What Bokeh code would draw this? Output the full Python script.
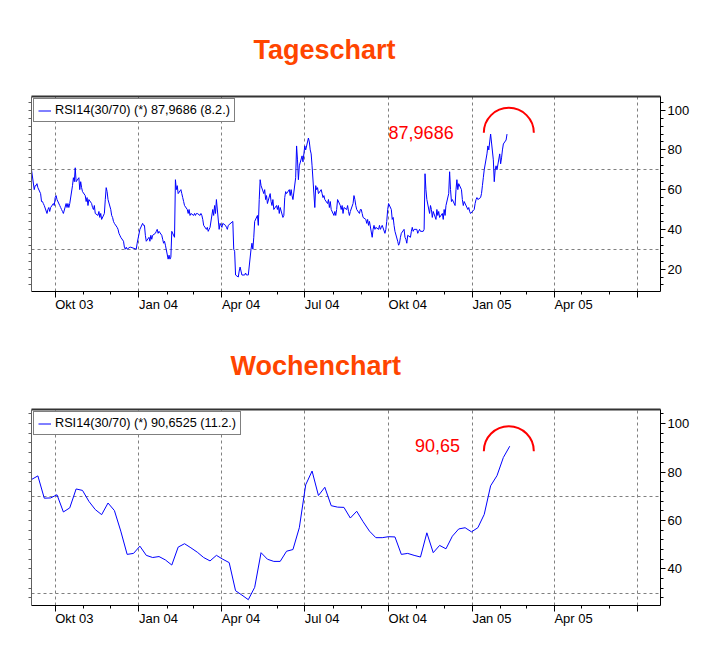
import math
import pandas as pd
from bokeh.plotting import figure
from bokeh.models import (Range1d, LinearAxis, FixedTicker, Label,
                          Legend, LegendItem, Grid, CustomJSTickFormatter)
from bokeh.layouts import column
from bokeh.embed import file_html
from bokeh.resources import INLINE

FONT = "Liberation Sans"
TITLE_COLOR = "#FF4500"

# ---------------- axis definitions ----------------
X_START = "2003-09-05"
X_END = "2005-07-26 12:00"
QUARTER_TICKS = ["2003-10-01", "2004-01-01", "2004-04-01", "2004-07-01",
                 "2004-10-01", "2005-01-01", "2005-04-01", "2005-07-01"]
QUARTER_LABELS = ["Okt 03", "Jan 04", "Apr 04", "Jul 04", "Okt 04", "Jan 05", "Apr 05", ""]
MONTH_TICKS = ["2003-10-01", "2003-11-01", "2003-12-01", "2004-01-01", "2004-02-01", "2004-03-01",
               "2004-04-01", "2004-05-01", "2004-06-01", "2004-07-01", "2004-08-01", "2004-09-01",
               "2004-10-01", "2004-11-01", "2004-12-01", "2005-01-01", "2005-02-01", "2005-03-01",
               "2005-04-01", "2005-05-01", "2005-06-01", "2005-07-01"]
Y_MAJOR_TOP = [20, 40, 60, 80, 100]
Y_MAJOR_BOTTOM = [40, 60, 80, 100]
Y_MINOR = [8, 12, 16, 20, 24, 28, 32, 36, 40, 44, 48, 52, 56, 60, 64, 68, 72, 76, 80, 84, 88, 92, 96, 100, 104]
Y_GRID = [30, 70]

# ---------------- daily RSI14 (Tageschart) ----------------
DAILY_START = "2003-09-05"
DAILY_END = "2005-02-08"
MARKET_HOLIDAYS = ["2003-12-24", "2003-12-25", "2003-12-26", "2003-12-31", "2004-01-01",
                   "2004-04-09", "2004-04-12", "2004-12-24", "2004-12-31"]
RSI_D_2003_09 = [70, 60, 62, 62, 63, 61, 58, 54, 54, 53, 52, 48, 50, 51, 49, 51, 53, 52]
RSI_D_2003_10 = [56, 57, 55, 52, 51, 50, 49, 48, 53, 51, 53, 51, 53, 62, 66, 64, 71, 64, 66, 60, 64, 61, 59]
RSI_D_2003_11 = [57, 54, 56, 52, 55, 53, 51, 50, 52, 48, 47, 49, 46, 48, 45, 48, 55, 61, 59, 55]
RSI_D_2003_12 = [50, 47, 46, 44, 43, 41, 40, 38, 37, 36, 34, 31, 30, 31, 30, 31, 31, 30, 33]
RSI_D_2004_01 = [40, 43, 42, 42, 37, 34, 36, 34, 37, 35, 37, 38, 39, 40, 38, 39, 37, 35, 33, 34, 32]
RSI_D_2004_02 = [25, 27, 25, 26, 39, 36, 65, 60, 62, 58, 60, 58, 56, 54, 52, 50, 48, 50, 47, 48]
RSI_D_2004_03 = [47, 48, 47, 48, 48, 47, 48, 47, 45, 42, 40, 41, 39, 40, 41, 50, 47, 52, 48, 55, 40, 43, 42]
RSI_D_2004_04 = [41, 43, 42, 41, 40, 42, 44, 30, 29, 17, 16, 19, 21, 19, 17, 17, 18, 17, 17, 17]
RSI_D_2004_05 = [30, 33, 30, 36, 44, 47, 42, 55, 65, 62, 58, 60, 55, 57, 53, 58, 54, 52, 55, 50, 52]
RSI_D_2004_06 = [50, 52, 48, 51, 46, 47, 56, 59, 58, 60, 57, 60, 57, 55, 66, 82, 75, 65, 72, 77, 74, 78]
RSI_D_2004_07 = [82, 80, 86, 84, 80, 78, 72, 51, 62, 60, 61, 58, 60, 58, 56, 57, 55, 53, 55, 51, 54, 50]
RSI_D_2004_08 = [47, 49, 47, 50, 55, 52, 50, 52, 48, 51, 50, 52, 49, 47, 49, 53, 57, 55, 52, 50, 48, 50]
RSI_D_2004_09 = [50, 48, 46, 45, 43, 45, 42, 44, 36, 40, 42, 40, 41, 40, 42, 40, 41, 42, 38, 40, 44, 50]
RSI_D_2004_10 = [53, 50, 45, 46, 42, 39, 34, 32, 33, 36, 38, 40, 36, 35, 33, 37, 36, 39, 41, 39, 40]
RSI_D_2004_11 = [40, 38, 39, 40, 39, 39, 40, 68, 60, 55, 48, 52, 50, 46, 49, 45, 50, 47, 49, 46, 48, 45]
RSI_D_2004_12 = [50, 47, 52, 58, 69, 60, 54, 55, 52, 60, 65, 60, 63, 60, 55, 52, 54, 50, 51, 49, 48]
RSI_D_2005_01 = [50, 53, 55, 56, 55, 56, 58, 62, 66, 70, 78, 82, 80, 84, 88, 75, 64, 70, 72, 70, 78]
RSI_D_2005_02 = [73, 76, 80, 83, 85, 87.9686]
DAILY_MONTHS = [("2003-09", RSI_D_2003_09), ("2003-10", RSI_D_2003_10), ("2003-11", RSI_D_2003_11),
                ("2003-12", RSI_D_2003_12), ("2004-01", RSI_D_2004_01), ("2004-02", RSI_D_2004_02),
                ("2004-03", RSI_D_2004_03), ("2004-04", RSI_D_2004_04), ("2004-05", RSI_D_2004_05),
                ("2004-06", RSI_D_2004_06), ("2004-07", RSI_D_2004_07), ("2004-08", RSI_D_2004_08),
                ("2004-09", RSI_D_2004_09), ("2004-10", RSI_D_2004_10), ("2004-11", RSI_D_2004_11),
                ("2004-12", RSI_D_2004_12), ("2005-01", RSI_D_2005_01), ("2005-02", RSI_D_2005_02)]

# ---------------- weekly RSI14 (Wochenchart) ----------------
WEEKLY_START = "2003-09-05"
WEEKLY_END = "2005-02-11"
RSI_WEEKLY = [76.9, 78.4, 69.2, 69.3, 70.6, 63.5, 65.2, 73.0, 72.4, 67.9, 64.5, 62.4, 67.2, 64.1,
              55.6, 46.0, 46.4, 49.4, 45.6, 44.7, 45.1, 43.7, 41.6, 49.0, 50.4, 48.7, 46.9, 44.7,
              43.3, 45.6, 44.0, 42.6, 31.0, 29.2, 27.3, 32.4, 46.7, 44.0, 43.1, 43.1, 47.3, 48.0,
              57.0, 74.7, 80.4, 70.3, 73.7, 66.1, 65.5, 65.4, 61.0, 63.8, 59.5, 55.6, 52.9, 52.9,
              53.3, 53.2, 46.0, 46.4, 45.6, 44.9, 54.9, 46.7, 49.7, 48.3, 53.5, 56.5, 57.0, 55.3,
              57.0, 62.5, 74.3, 78.5, 86.0, 90.65]

# ---------------- annotations ----------------
LEGEND_DAILY = "RSI14(30/70) (*) 87,9686 (8.2.)"
LEGEND_WEEKLY = "RSI14(30/70) (*) 90,6525 (11.2.)"
NOTE_DAILY = "87,9686"
NOTE_WEEKLY = "90,65"


def ms(t):
    return (pd.Timestamp(t) - pd.Timestamp("1970-01-01")) / pd.Timedelta(milliseconds=1)


# build daily series
bdays = pd.bdate_range(DAILY_START, DAILY_END)
bdays = bdays[~bdays.isin(pd.to_datetime(MARKET_HOLIDAYS))]
daily_x, daily_y = [], []
for ym, vals in DAILY_MONTHS:
    md = [d for d in bdays if d.strftime("%Y-%m") == ym]
    n = min(len(md), len(vals))
    daily_x += [ms(d) for d in md[:n]]
    daily_y += vals[:n]

weeks = pd.date_range(WEEKLY_START, WEEKLY_END, freq="7D")
weekly_x = [ms(d) for d in weeks][:len(RSI_WEEKLY)]
weekly_y = RSI_WEEKLY[:len(weekly_x)]


def build(title, title_offset, title_standoff, height, top, bottom, left, right,
          ymin, ymax, major_y, xs, ys, legend_text, note_text, note_x, note_y, arc_x, arc_y):
    p = figure(width=708, height=height,
               x_range=Range1d(ms(X_START), ms(X_END)), y_range=Range1d(ymin, ymax),
               x_axis_type=None, y_axis_type=None, toolbar_location=None, output_backend="svg",
               min_border_left=left, min_border_right=right, min_border_top=top,
               min_border_bottom=bottom, background_fill_color="white",
               border_fill_color="white", outline_line_color=None)

    p.title.text = title
    p.title.align = "left"
    p.title.offset = title_offset
    p.title.standoff = title_standoff
    p.title.vertical_align = "top"
    p.title.text_font = FONT
    p.title.text_font_size = "27px"
    p.title.text_font_style = "bold"
    p.title.text_color = TITLE_COLOR

    grey = "#606060"
    p.add_layout(Grid(dimension=0, ticker=FixedTicker(ticks=[ms(t) for t in QUARTER_TICKS]),
                      grid_line_color="#808080", grid_line_dash="3 3", grid_line_width=1))
    p.add_layout(Grid(dimension=1, ticker=FixedTicker(ticks=Y_GRID),
                      grid_line_color="#808080", grid_line_dash="3 3", grid_line_width=1))

    top_ax = LinearAxis(ticker=FixedTicker(ticks=[], minor_ticks=[]), axis_line_width=2,
                        axis_line_color="#333333", major_tick_out=0, major_tick_in=0,
                        minor_tick_out=0, minor_tick_in=0, major_label_standoff=0)
    p.add_layout(top_ax, "above")

    left_ax = LinearAxis(ticker=FixedTicker(ticks=[], minor_ticks=Y_MINOR), axis_line_color=grey,
                         minor_tick_line_color=grey, minor_tick_out=3, minor_tick_in=0,
                         major_tick_out=0, major_tick_in=0, major_label_standoff=0)
    p.add_layout(left_ax, "left")

    right_ax = LinearAxis(ticker=FixedTicker(ticks=major_y, minor_ticks=Y_MINOR),
                          axis_line_color="black", major_tick_line_color="black",
                          minor_tick_line_color="black", major_tick_out=5, major_tick_in=0,
                          minor_tick_out=3, minor_tick_in=0, major_label_standoff=2,
                          major_label_text_font=FONT, major_label_text_font_size="13px",
                          major_label_text_color="black")
    p.add_layout(right_ax, "right")

    # date axis: labels start at their quarter tick (tiny negative angle -> left-aligned)
    bottom_ax = LinearAxis(ticker=FixedTicker(ticks=[ms(t) for t in QUARTER_TICKS],
                                              minor_ticks=[ms(t) for t in MONTH_TICKS]),
                           formatter=CustomJSTickFormatter(args=dict(labels=QUARTER_LABELS),
                                                           code="return labels[index] || ''"),
                           axis_line_color="black", major_tick_line_color="black",
                           minor_tick_line_color="black", major_tick_out=6, major_tick_in=0,
                           minor_tick_out=3, minor_tick_in=0, major_label_standoff=7,
                           major_label_orientation=-1e-6,
                           major_label_text_font=FONT, major_label_text_font_size="13px",
                           major_label_text_color="black")
    p.add_layout(bottom_ax, "below")

    r = p.line(x=xs, y=ys, line_color="#0000FF", line_width=1)

    legend = Legend(items=[LegendItem(label=legend_text, renderers=[r])], location="top_left",
                    margin=2, padding=4, spacing=0, glyph_width=13, glyph_height=13,
                    label_height=13, label_standoff=4, label_text_font=FONT,
                    label_text_font_size="12.7px", label_text_color="black",
                    border_line_color="black", border_line_width=1,
                    background_fill_color="white", background_fill_alpha=1)
    p.add_layout(legend)

    p.add_layout(Label(x=ms(note_x), y=note_y, text=note_text, text_color="#FF0000",
                       text_font=FONT, text_font_size="18px", text_align="left",
                       text_baseline="middle"))
    p.arc(x=[ms(arc_x)], y=[arc_y], radius=25, radius_units="screen", start_angle=0,
          end_angle=math.pi, line_color="#FF0000", line_width=2)
    return p


p1 = build("Tageschart", 222, 59, 322, 96, 28, 31, 47, 8.7, 106.9, Y_MAJOR_TOP,
           daily_x, daily_y, LEGEND_DAILY, NOTE_DAILY, "2004-10-01", 88.6, "2005-02-10", 88.6)
p2 = build("Wochenchart", 199, 54, 314, 87, 30, 29, 48, 24.9, 105.8, Y_MAJOR_BOTTOM,
           weekly_x, weekly_y, LEGEND_WEEKLY, NOTE_WEEKLY, "2004-10-30", 90.8, "2005-02-10", 88.6)

layout = column(p1, p2)
open("out.html", "w").write(file_html(layout, INLINE, title="RSI14"))
